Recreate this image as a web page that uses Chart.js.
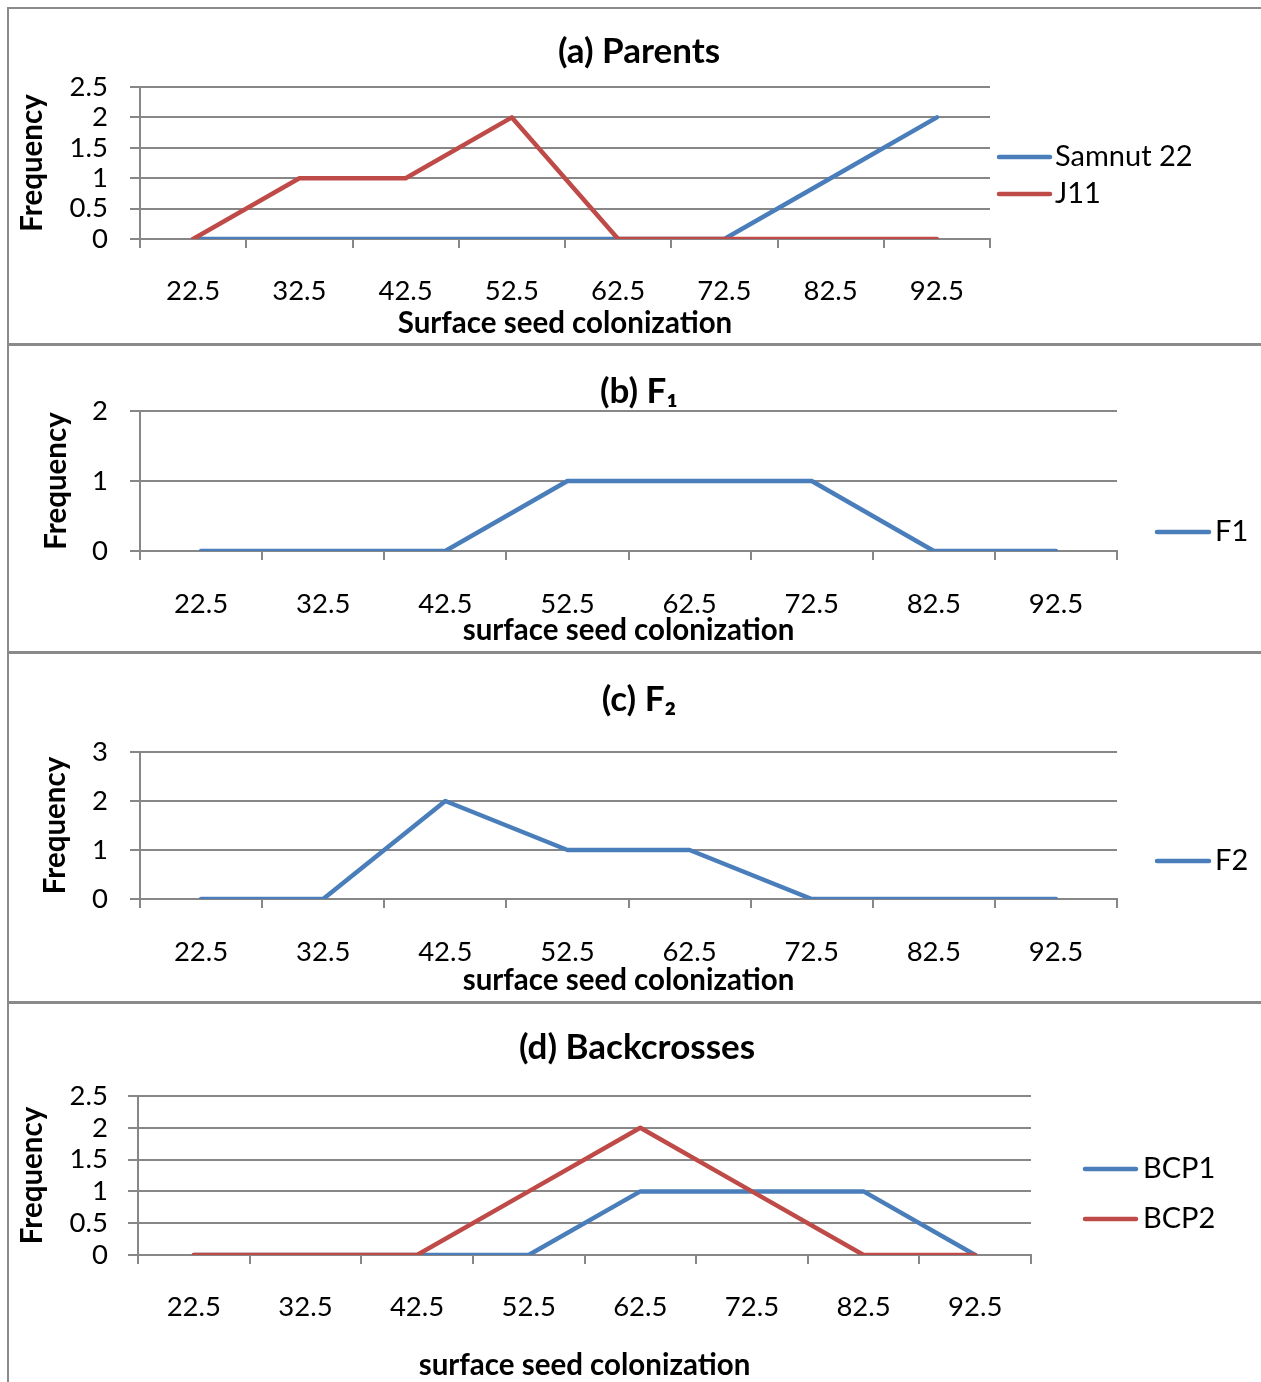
<!DOCTYPE html>
<html>
<head>
<meta charset="utf-8">
<script src="https://cdn.jsdelivr.net/npm/chart.js@4.4.0/dist/chart.umd.min.js"></script>
<style>
html,body{margin:0;padding:0;background:#fff;}
#wrap{position:relative;width:1261px;height:1382px;overflow:hidden;background:#fff;}
#wrap canvas{position:absolute;left:17px;}
.ln{position:absolute;background:#8a8a8a;z-index:5;}
</style>
</head>
<body>
<div id="wrap">
  <canvas id="ca" width="1244" height="344" style="top:0px"></canvas>
  <canvas id="cb" width="1244" height="308" style="top:344px"></canvas>
  <canvas id="cc" width="1244" height="350" style="top:652px"></canvas>
  <canvas id="cd" width="1244" height="380" style="top:1002px"></canvas>
  <div class="ln" style="left:7px;top:7px;width:2px;height:1375px"></div>
  <div class="ln" style="left:7px;top:7px;width:1254px;height:2px"></div>
  <div class="ln" style="left:7px;top:343px;width:1254px;height:3px"></div>
  <div class="ln" style="left:7px;top:651px;width:1254px;height:3px"></div>
  <div class="ln" style="left:7px;top:1001px;width:1254px;height:3px"></div>
</div>
<script>
// ---- data ----
const categories = ['22.5', '32.5', '42.5', '52.5', '62.5', '72.5', '82.5', '92.5'];
const samnut22 = [0, 0, 0, 0, 0, 0, 1, 2];
const j11      = [0, 1, 1, 2, 0, 0, 0, 0];
const f1       = [0, 0, 0, 1, 1, 1, 0, 0];
const f2       = [0, 0, 2, 1, 1, 0, 0, 0];
const bcp1     = [0, 0, 0, 0, 1, 1, 1, 0];
const bcp2     = [0, 0, 0, 1, 2, 1, 0, 0];

const titleA = '(a) Parents';
const titleB = '(b) F\u2081';
const titleC = '(c) F\u2082';
const titleD = '(d) Backcrosses';
const xTitleA = 'Surface seed colonization';
const xTitleOther = 'surface seed colonization';
const yTitle = 'Frequency';

// ---- styles ----
const FONT = 'Lato, "Open Sans", sans-serif';
const GRID = '#878787';
const BLUE = '#4A7EBB';
const RED = '#BE4B48';
const TICK_SIZE = 27.5;
const AXIS_TITLE_SIZE = 29.5;
const TITLE_SIZE = 35;
const LEGEND_SIZE = 29;

const manualLegend = {
  id: 'manualLegend',
  afterDraw(chart, args, o) {
    const ctx = chart.ctx;
    ctx.save();
    chart.data.datasets.forEach((ds, i) => {
      const y = o.ys[i];
      ctx.strokeStyle = ds.borderColor;
      ctx.lineWidth = 4.5;
      ctx.lineCap = 'round';
      ctx.beginPath();
      ctx.moveTo(o.x1, y);
      ctx.lineTo(o.x2, y);
      ctx.stroke();
      ctx.fillStyle = '#000';
      ctx.font = LEGEND_SIZE + 'px ' + FONT;
      ctx.textBaseline = 'middle';
      ctx.textAlign = 'left';
      ctx.fillText(ds.label, o.tx, y);
    });
    ctx.restore();
  }
};

function build(p) {
  return new Chart(document.getElementById(p.id), {
    type: 'line',
    data: {
      labels: categories,
      datasets: p.datasets.map(d => ({
        label: d.label, data: d.data,
        borderColor: d.color, backgroundColor: d.color,
        borderWidth: 4.5, pointRadius: 0, tension: 0, fill: false,
        borderJoinStyle: 'round', borderCapStyle: 'round', order: d.order
      }))
    },
    options: {
      responsive: false, animation: false, events: [],
      layout: { padding: { left: 0, right: p.pr, top: 0, bottom: 0 } },
      plugins: {
        legend: { display: false },
        tooltip: { enabled: false },
        title: {
          display: true, text: p.title, color: '#000',
          font: { family: FONT, size: TITLE_SIZE, weight: 'bold', lineHeight: 1 },
          padding: { top: p.tTop, bottom: p.tBot }
        },
        manualLegend: p.legend
      },
      scales: {
        x: {
          type: 'category', offset: true,
          grid: { display: true, offset: true, drawOnChartArea: false, drawTicks: true, tickLength: 9, color: GRID, lineWidth: 2 },
          border: { display: true, color: GRID, width: 2 },
          ticks: { color: '#000', font: { family: FONT, size: TICK_SIZE, lineHeight: 1 }, padding: p.xPad, maxRotation: 0, autoSkip: false },
          title: { display: true, text: p.xTitle, color: '#000', font: { family: FONT, size: AXIS_TITLE_SIZE, weight: 'bold', lineHeight: 1 }, padding: { top: 0, bottom: p.xtBot } },
          afterFit(s) { s.height = p.xH; }
        },
        y: {
          min: 0, max: p.ymax,
          ticks: { stepSize: p.step, autoSkip: false, color: '#000', font: { family: FONT, size: TICK_SIZE, lineHeight: 1 }, padding: p.yPad, callback: v => String(v) },
          grid: { color: GRID, lineWidth: 2, drawTicks: true, tickLength: 10 },
          border: { display: true, color: GRID, width: 2 },
          title: { display: true, text: yTitle, color: '#000', font: { family: FONT, size: AXIS_TITLE_SIZE, weight: 'bold', lineHeight: 1 }, padding: { top: p.ytTop, bottom: 0 } },
          afterFit(s) { s.width = p.yW; }
        },
        pad: {
          type: 'linear', position: 'right', display: true,
          grid: { display: false }, border: { display: false }, ticks: { display: false },
          afterFit(s) { s.width = p.padW; }
        }
      }
    },
    plugins: [manualLegend]
  });
}

// panel a: canvas h 344, chartArea local L123 R973 T87 B239
build({
  id: 'ca', title: titleA, xTitle: xTitleA, ymax: 2.5, step: 0.5,
  pr: 0, padW: 271, yW: 123, yPad: 22, ytTop: 0.75,
  tTop: 34.5, tBot: 17.5,
  xH: 105, xPad: 29.25, xtBot: 6.25,
  datasets: [
    { label: 'Samnut 22', data: samnut22, color: BLUE, order: 1 },
    { label: 'J11', data: j11, color: RED, order: 0 }
  ],
  legend: { x1: 982, x2: 1033, tx: 1038, ys: [157, 194] }
});

// panel b: canvas h 308, chartArea local L123 R1100 T67 B207
build({
  id: 'cb', title: titleB, xTitle: xTitleOther, ymax: 2, step: 1,
  pr: 0, padW: 144, yW: 123, yPad: 22, ytTop: 24.25,
  tTop: 30.5, tBot: 1.5,
  xH: 101, xPad: 30.25, xtBot: 7.25,
  datasets: [
    { label: 'F1', data: f1, color: BLUE, order: 0 }
  ],
  legend: { x1: 1140, x2: 1192, tx: 1198, ys: [188] }
});

// panel c: canvas h 350, chartArea local L123 R1100 T100 B247
build({
  id: 'cc', title: titleC, xTitle: xTitleOther, ymax: 3, step: 1,
  pr: 0, padW: 144, yW: 123, yPad: 22, ytTop: 23.25,
  tTop: 30.5, tBot: 34.5,
  xH: 103, xPad: 30.25, xtBot: 7.25,
  datasets: [
    { label: 'F2', data: f2, color: BLUE, order: 0 }
  ],
  legend: { x1: 1140, x2: 1192, tx: 1198, ys: [209] }
});

// panel d: canvas h 380, chartArea local L121 R1014 T94 B253
build({
  id: 'cd', title: titleD, xTitle: xTitleOther, ymax: 2.5, step: 0.5,
  pr: 4, padW: 226, yW: 121, yPad: 20, ytTop: 0.75,
  tTop: 28.5, tBot: 30.5,
  xH: 127, xPad: 29.25, xtBot: 2.25,
  datasets: [
    { label: 'BCP1', data: bcp1, color: BLUE, order: 1 },
    { label: 'BCP2', data: bcp2, color: RED, order: 0 }
  ],
  legend: { x1: 1068, x2: 1119, tx: 1126, ys: [167, 217] }
});
</script>
</body>
</html>
